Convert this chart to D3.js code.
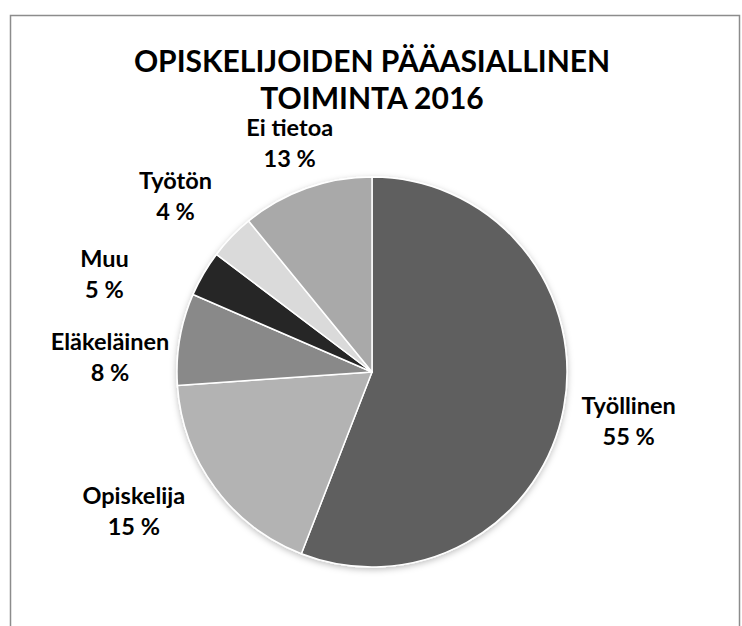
<!DOCTYPE html>
<html>
<head>
<meta charset="utf-8">
<script src="https://d3js.org/d3.v7.min.js"></script>
<style>
  html, body { margin: 0; padding: 0; background: #fff; }
  text { font-family: Lato, "Open Sans", sans-serif; font-weight: bold; fill: #000; }
</style>
</head>
<body>
<svg id="chart"></svg>
<script>
const categories = ["Työllinen", "Opiskelija", "Eläkeläinen", "Muu", "Työtön", "Ei tietoa"]
const shares = [55.9, 18.0, 7.6, 3.8, 3.8, 10.9]
const percentLabels = ["55 %", "15 %", "8 %", "5 %", "4 %", "13 %"]
const titleLines = ["OPISKELIJOIDEN PÄÄASIALLINEN", "TOIMINTA 2016"]

const W = 742, H = 626,
      cx = 372, cy = 372,
      R = 195;

// slice colours, in category order
const colors = ["#5f5f5f", "#b3b3b3", "#898989", "#252525", "#dadada", "#a9a9a9"]

// where Excel put each label block: [angle in degrees, distance from pie centre]
const labelPolar = [[102.6, 263], [238.3, 280], [271.4, 262], [288.4, 282], [310.4, 258], [339.5, 235]]

const svg = d3.select("#chart")
  .attr("width", W)
  .attr("height", H)

const defs = svg.append("defs")
const shadow = defs.append("filter")
  .attr("id", "shadow")
  .attr("x", "-10%").attr("y", "-10%")
  .attr("width", "120%").attr("height", "120%")
shadow.append("feDropShadow")
  .attr("dx", 0).attr("dy", 2)
  .attr("stdDeviation", 3)
  .attr("flood-color", "#000")
  .attr("flood-opacity", 0.25)

// chart frame
svg.append("rect")
  .attr("x", 10.5).attr("y", 15.5)
  .attr("width", 729).attr("height", 660)
  .attr("fill", "none")
  .attr("stroke", "#8c8c8c")
  .attr("stroke-width", 1.5)

svg.append("g")
  .attr("class", "title")
  .selectAll("text")
  .data(titleLines)
  .enter().append("text")
  .attr("x", cx)
  .attr("y", (d, i) => 72 + i * 37)
  .attr("text-anchor", "middle")
  .style("font-size", "30px")
  .text(d => d)

const data = categories.map((c, i) => ({ name: c, value: shares[i], label: percentLabels[i], color: colors[i], polar: labelPolar[i] }))

const pie = d3.pie()
  .sort(null)
  .value(d => d.value)

const arc = d3.arc()
  .innerRadius(0)
  .outerRadius(R)

const g = svg.append("g")
  .attr("transform", "translate(" + cx + "," + cy + ")")

g.append("g")
  .attr("filter", "url(#shadow)")
  .selectAll("path")
  .data(pie(data))
  .enter().append("path")
  .attr("d", arc)
  .attr("fill", d => d.data.color)
  .attr("stroke", "#fff")
  .attr("stroke-width", 1.5)
  .attr("stroke-linejoin", "round")

const labels = g.append("g")
  .attr("class", "labels")
  .selectAll("g")
  .data(data)
  .enter().append("g")
  .attr("transform", d => {
    const p = d3.pointRadial(d.polar[0] * Math.PI / 180, d.polar[1])
    return "translate(" + p[0] + "," + p[1] + ")"
  })

labels.append("text")
  .attr("y", -15.5)
  .attr("text-anchor", "middle")
  .style("font-size", "23.5px")
  .text(d => d.name)

labels.append("text")
  .attr("y", 15.5)
  .attr("text-anchor", "middle")
  .style("font-size", "23.5px")
  .text(d => d.label)
</script>
</body>
</html>
